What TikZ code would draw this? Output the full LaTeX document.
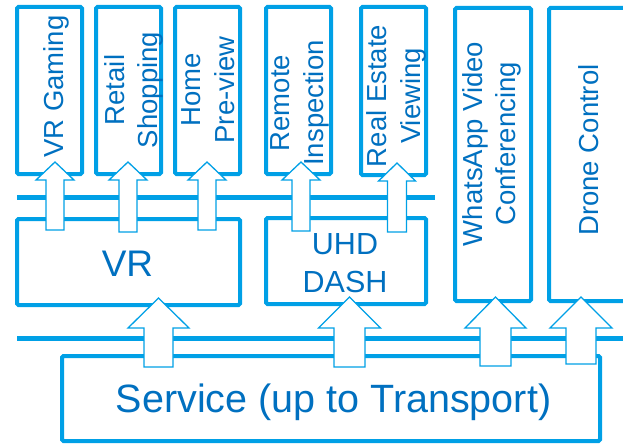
\documentclass[tikz,border=0pt]{standalone}
\usepackage{fontspec}
\setmainfont{Liberation Sans}
\usetikzlibrary{calc}
\definecolor{linebl}{RGB}{0,160,230}
\definecolor{textbl}{RGB}{0,112,192}
\tikzset{
  box/.style={draw=linebl, line width=4pt, rounded corners=1.5pt, fill=white, inner sep=0pt},
  bus/.style={draw=linebl, line width=5pt},
  blockarr/.style={draw=linebl, line width=1.3pt, fill=white, line join=miter},
  vlabel/.style={text=textbl, rotate=90, align=center, inner sep=0pt,
    font=\fontsize{27.5}{33.5}\selectfont},
  hlabel/.style={text=textbl, align=center, inner sep=0pt},
}
% block arrow: tail, tip, shaft half-width, head half-width, head length
\newcommand\blockarrow[5]{%
  \draw[blockarr] let \p1=(#1), \p2=(#2) in
    (\x1-#3,\y1) -- (\x1-#3,\y2-#5) -- (\x1-#4,\y2-#5) -- (\x2,\y2)
    -- (\x1+#4,\y2-#5) -- (\x1+#3,\y2-#5) -- (\x1+#3,\y1) -- cycle;}
\begin{document}
\begin{tikzpicture}[x=1pt, y=-1pt]
  \useasboundingbox (0,0) rectangle (623,444);
  \clip (0,0) rectangle (623,444);

  % application boxes
  \node[box, minimum width=65pt, minimum height=167pt] (vrgaming) at (49.5,90.5) {};
  \node[box, minimum width=65pt, minimum height=167pt] (retail) at (128.5,90.5) {};
  \node[box, minimum width=65pt, minimum height=167pt] (home) at (207.5,90.5) {};
  \node[box, minimum width=65pt, minimum height=167pt] (remote) at (298.5,90.5) {};
  \node[box, minimum width=65pt, minimum height=168pt] (realestate) at (393.5,91) {};
  \node[box, minimum width=76pt, minimum height=293pt] (whatsapp) at (493,154.5) {};
  \node[box, minimum width=89pt, minimum height=293pt] (drone) at (593.5,154.5) {};

  % middle layer boxes
  \node[box, minimum width=223pt, minimum height=86pt] (vr) at (128.5,262) {};
  \node[box, minimum width=160pt, minimum height=86pt] (uhd) at (346,261) {};

  % service box
  \node[box, minimum width=538pt, minimum height=85pt] (service) at (331,398.5) {};

  % buses
  \coordinate (busAw) at (17,197);
  \coordinate (busAe) at (435,197);
  \coordinate (busBw) at (17,338);
  \coordinate (busBe) at (640,338);
  \draw[bus] (busAw) -- (busAe);
  \draw[bus] (busBw) -- (busBe);

  % arrow end points
  \coordinate (a1t) at (55,230);    \coordinate (a1h) at (55,162);
  \coordinate (a2t) at (128,232);   \coordinate (a2h) at (128,162);
  \coordinate (a3t) at (207,230);   \coordinate (a3h) at (207,162);
  \coordinate (a4t) at (301,231);   \coordinate (a4h) at (301,162);
  \coordinate (a5t) at (397,232);   \coordinate (a5h) at (397,163);
  \coordinate (b1t) at (158.5,367); \coordinate (b1h) at (158.5,298);
  \coordinate (b2t) at (349.5,367); \coordinate (b2h) at (349.5,297);
  \coordinate (b3t) at (495.5,366); \coordinate (b3h) at (495.5,297);
  \coordinate (b4t) at (581,364);   \coordinate (b4h) at (581,297);

  % arrows into the application boxes
  \blockarrow{a1t}{a1h}{9pt}{19pt}{18pt}
  \blockarrow{a2t}{a2h}{9pt}{19pt}{18pt}
  \blockarrow{a3t}{a3h}{9pt}{19pt}{18pt}
  \blockarrow{a4t}{a4h}{9pt}{19pt}{18pt}
  \blockarrow{a5t}{a5h}{9.5pt}{18.5pt}{18pt}

  % arrows up from the service box
  \blockarrow{b1t}{b1h}{14.5pt}{30.5pt}{30pt}
  \blockarrow{b2t}{b2h}{15.5pt}{31pt}{31pt}
  \blockarrow{b3t}{b3h}{15.5pt}{30.5pt}{31pt}
  \blockarrow{b4t}{b4h}{15pt}{31pt}{31pt}

  % labels
  \node[vlabel] (l-vrgaming) at (56,86.5) {VR Gaming};
  \node[vlabel] (l-retail) at (134,90) {Retail\\Shopping};
  \node[vlabel] (l-home) at (208,90) {Home\\Pre-view};
  \node[vlabel] (l-remote) at (300,103) {Remote\\Inspection};
  \node[vlabel] (l-realestate) at (396.5,96) {Real Estate\\Viewing};
  \node[vlabel] (l-whatsapp) at (492,144) {WhatsApp Video\\Conferencing};
  \node[vlabel] (l-drone) at (589,150) {Drone Control};

  \node[hlabel, font=\fontsize{37}{44}\selectfont] (l-vr) at (127.5,263.5) {VR};
  \node[hlabel, font=\fontsize{30.5}{38}\selectfont] (l-uhd) at (345,263.5) {UHD\\DASH};
  \node[hlabel, font=\fontsize{39.5}{47}\selectfont] (l-service) at (333.5,402.7) {Service (up to Transport)};
\end{tikzpicture}
\end{document}
